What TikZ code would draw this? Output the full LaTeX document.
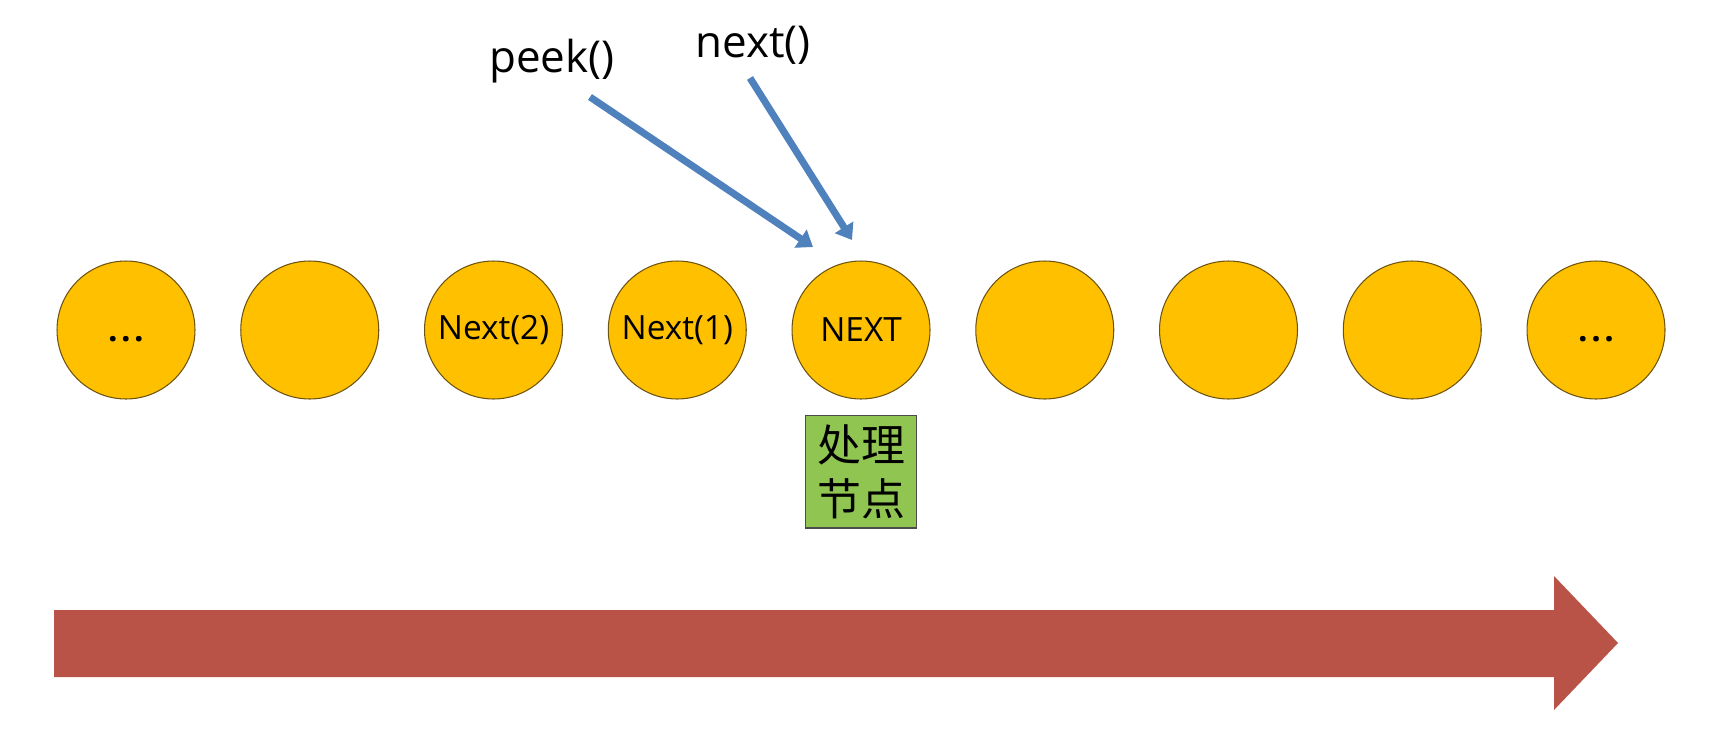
\documentclass[tikz,border=0pt]{standalone}
\usepackage{fontspec}
\setmainfont{Open Sans}
\newfontfamily\cjk{Noto Sans CJK SC}
\usetikzlibrary{arrows.meta, positioning}
\definecolor{cgold}{HTML}{FFC000}
\definecolor{cbrown}{HTML}{6E5410}
\definecolor{cblue}{HTML}{4F81BD}
\definecolor{cgreen}{HTML}{8FC550}
\definecolor{cred}{HTML}{B95348}
\newcommand{\moredots}{\vphantom{N}{\bfseries .\kern2pt.\kern2pt.}}

\begin{document}
\begin{tikzpicture}[x=0.02cm, y=-0.02cm,
    item/.style={circle, fill=cgold, draw=cbrown, line width=0.6pt,
      minimum size=2.76cm, inner sep=0pt, font=\fontsize{19}{22}\selectfont},
    pointer/.style={cblue, line width=4pt, -{Triangle[width=0.42cm, length=0.3cm]}},
    callname/.style={anchor=base, font=\fontsize{25}{30}\selectfont}]
  \useasboundingbox (0,0) rectangle (1716,730);

  % Row of nodes
  \foreach \i/\txt in {1/\moredots, 2/, 3/Next(2), 4/Next(1), 5/NEXT, 6/, 7/, 8/, 9/\moredots}{
    \node[item] (c\i) at ({126+183.75*(\i-1)}, 330) {\txt};
  }

  % Current node marker
  \node[fill=cgreen, draw=black!70, line width=0.6pt, minimum width=2.22cm,
    minimum height=2.26cm, inner sep=0pt, align=center,
    font=\cjk\fontsize{25}{30.7}\selectfont, below=0.3cm of c5] (proc) {处理\\节点};

  % Method labels and pointers
  \node[callname] (peek) at (552, 72) {peek()};
  \node[callname] (nxt) at (753, 57) {next()};
  \coordinate (peektail) at (590, 97);
  \coordinate (peektip) at (813, 247);
  \coordinate (nexttail) at (750, 78);
  \coordinate (nexttip) at (852, 240);
  \draw[pointer] (peektail) -- (peektip);
  \draw[pointer] (nexttail) -- (nexttip);

  % Direction of travel
  \fill[cred] (54, 610) -- (1554, 610) -- (1554, 576) -- (1618, 643)
    -- (1554, 710) -- (1554, 677) -- (54, 677) -- cycle;
\end{tikzpicture}
\end{document}
